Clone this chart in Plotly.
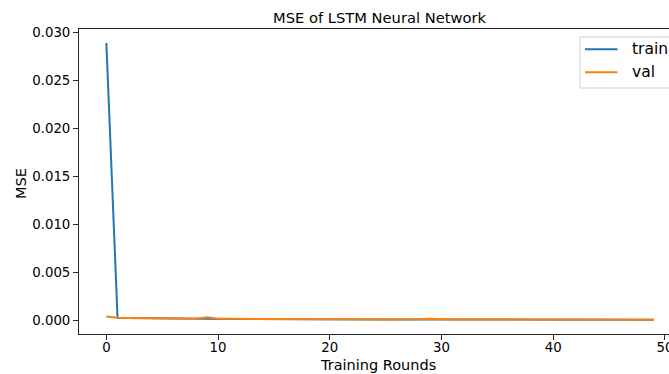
import plotly.graph_objects as go

epochs = list(range(50))
train_mse = [0.0289, 0.00032, 0.00028, 0.00026, 0.00025, 0.00024, 0.00023, 0.00021, 0.00020, 0.00019,
             0.00019, 0.00018, 0.00018, 0.00017, 0.00017, 0.00016, 0.00016, 0.00016, 0.00015, 0.00015,
             0.00015, 0.00014, 0.00014, 0.00014, 0.00014, 0.00013, 0.00013, 0.00013, 0.00013, 0.00014,
             0.00013, 0.00013, 0.00013, 0.00012, 0.00012, 0.00012, 0.00012, 0.00013, 0.00012, 0.00013,
             0.00014, 0.00013, 0.00012, 0.00012, 0.00012, 0.00012, 0.00012, 0.00011, 0.00011, 0.00011]
val_mse = [0.00045, 0.00032, 0.00029, 0.00028, 0.00027, 0.00025, 0.00024, 0.00022, 0.00021, 0.00036,
           0.00022, 0.00020, 0.00019, 0.00019, 0.00018, 0.00018, 0.00017, 0.00017, 0.00016, 0.00016,
           0.00015, 0.00015, 0.00015, 0.00014, 0.00014, 0.00014, 0.00014, 0.00013, 0.00015, 0.00021,
           0.00014, 0.00014, 0.00013, 0.00013, 0.00013, 0.00013, 0.00013, 0.00014, 0.00013, 0.00014,
           0.00013, 0.00013, 0.00014, 0.00013, 0.00012, 0.00012, 0.00013, 0.00012, 0.00012, 0.00012]
series_names = ["train", "val"]
series_colors = ["#1f77b4", "#ff7f0e"]
x_ticks = [0, 10, 20, 30, 40, 50]
y_ticks = [0.000, 0.005, 0.010, 0.015, 0.020, 0.025, 0.030]

W, H = 669, 374
ML, MT, MB, MR = 79, 29, 40, 0
PW, PH = W - ML - MR, H - MT - MB

def px_x(p):
    return (p - ML) / PW

def px_y(p):
    return 1 - (p - MT) / PH

FONT = "DejaVu Sans"

fig = go.Figure()
for name, vals, col in zip(series_names, [train_mse, val_mse], series_colors):
    fig.add_trace(go.Scatter(x=epochs, y=vals, mode="lines", name=name,
                             line=dict(color=col, width=2), showlegend=False, cliponaxis=False))

axis_common = dict(showgrid=False, zeroline=False, showline=True, linecolor="#262626",
                   linewidth=1, ticks="outside", ticklen=5, tickwidth=1, tickcolor="#262626",
                   automargin=False,
                   tickfont=dict(family=FONT, size=13.3, color="#000"))

fig.update_layout(
    template="none",
    width=W, height=H, margin=dict(l=ML, r=MR, t=MT, b=MB, autoexpand=False),
    paper_bgcolor="white", plot_bgcolor="white",
    xaxis=dict(range=[-2.45, 50.37], tickvals=x_ticks, mirror=True, ticklabelstandoff=-4,
               ticklabeloverflow="allow", **axis_common),
    yaxis=dict(range=[-0.001375, 0.030365], tickvals=y_ticks, tickformat=".3f", **axis_common),
    showlegend=False,
)

annotations = [
    dict(text="MSE of LSTM Neural Network", x=px_x(380), y=px_y(17.5), xref="paper", yref="paper",
         xanchor="center", yanchor="middle", showarrow=False,
         font=dict(family=FONT, size=14.7, color="#000")),
    dict(text="Training Rounds", x=px_x(378), y=px_y(365), xref="paper", yref="paper",
         xanchor="center", yanchor="middle", showarrow=False,
         font=dict(family=FONT, size=14.5, color="#000")),
    dict(text="MSE", x=px_x(21), y=px_y(184), xref="paper", yref="paper", textangle=-90,
         xanchor="center", yanchor="middle", showarrow=False,
         font=dict(family=FONT, size=14.5, color="#000")),
]

# manual legend (box partially cut off at the right edge as in the reference)
shapes = [
    dict(type="rect", xref="paper", yref="paper", x0=px_x(580), x1=px_x(700),
         y0=px_y(88), y1=px_y(37), line=dict(color="#d0d0d0", width=1),
         fillcolor="rgba(255,255,255,0.8)", layer="above"),
]
leg_y = [49.3, 72.3]
for name, col, ly in zip(series_names, series_colors, leg_y):
    shapes.append(dict(type="line", xref="paper", yref="paper", x0=px_x(585), x1=px_x(617.5),
                       y0=px_y(ly), y1=px_y(ly), line=dict(color=col, width=2), layer="above"))
    annotations.append(dict(text=name, x=px_x(630), y=px_y(ly), xref="paper", yref="paper",
                            xanchor="left", yanchor="middle", showarrow=False,
                            font=dict(family=FONT, size=15.5, color="#000")))

fig.update_layout(annotations=annotations, shapes=shapes)
fig.write_html("out.html")
